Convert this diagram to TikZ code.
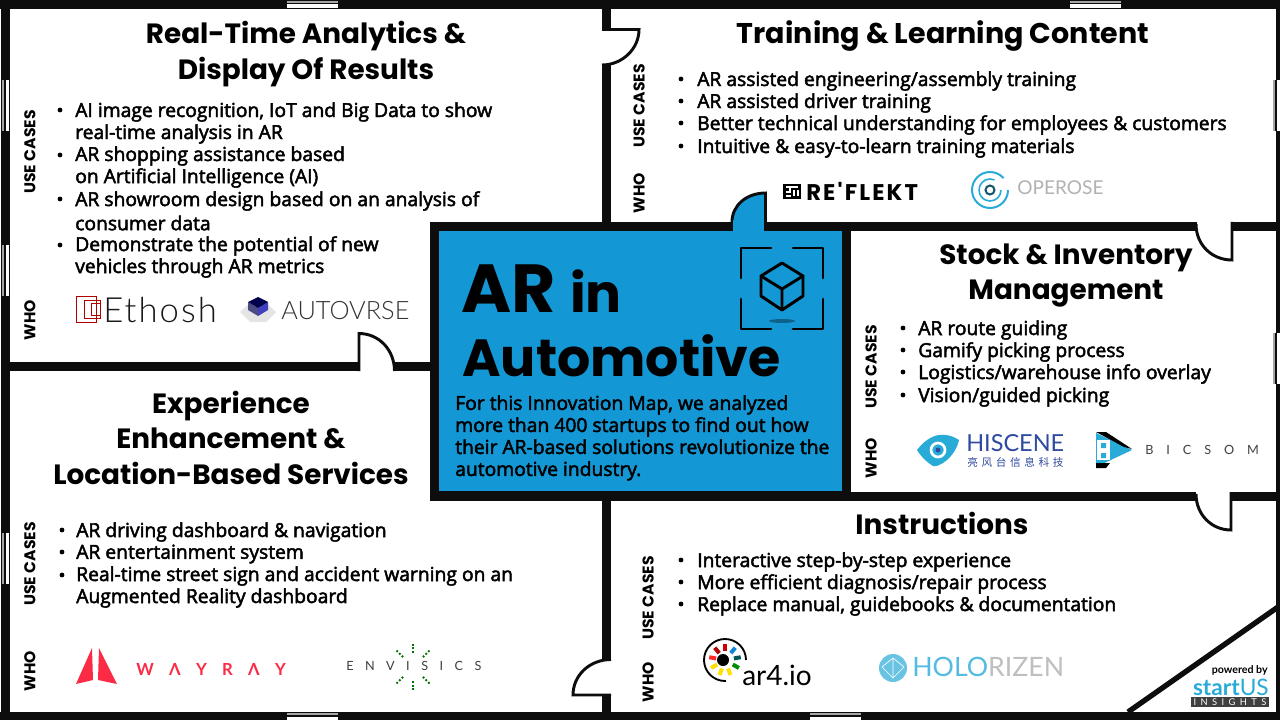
\documentclass[tikz,border=0pt]{standalone}
\usepackage{fontspec}
\setmainfont{Open Sans}[FakeBold=2.5]
\newfontfamily\headfont{Poppins}
\newfontfamily\logofont{Lato}
\newfontfamily\thinfont{Lato Light}
\newfontfamily\cjkfont{Noto Sans CJK SC}
\usetikzlibrary{calc}
\definecolor{wall}{HTML}{0D0D0D}
\definecolor{roomblue}{HTML}{1497D5}
\definecolor{logored}{HTML}{FB2A45}
\definecolor{logocyan}{HTML}{29ABD8}
\definecolor{logonavy}{HTML}{2F4AA0}
\tikzstyle{doorline} = [wall, line width=2.2pt]
\tikzstyle{title} = [align=center, font=\headfont\bfseries\fontsize{20.9}{26.6}\selectfont, inner sep=0pt]
\tikzstyle{item} = [anchor=west, yshift=-1.5pt, font=\fontsize{14.46}{16.5}\selectfont, inner sep=0pt, align=left]
\tikzstyle{tag} = [rotate=90, font=\headfont\bfseries\fontsize{11.7}{13}\selectfont, inner sep=0pt]
\tikzstyle{dot} = [circle, fill=black, inner sep=0pt, minimum size=3.6pt]
\tikzstyle{logo} = [anchor=west, inner sep=0pt]
\tikzstyle{icon} = [line width=2.2pt, line cap=round, line join=round]
\newcommand{\hwindow}[2]{% left end, y of wall top
    \fill[white] (#1,#2+1) rectangle ++(51,7);
    \fill[gray!70] (#1,#2+1) rectangle ++(51,2);
    \fill[wall] (#1,#2+3) rectangle ++(51,1.5);
}
\newcommand{\vwindow}[2]{% x of wall left, top end
    \fill[white] (#1+1,#2) rectangle ++(7,51);
    \fill[gray!70] (#1+1,#2) rectangle ++(2,51);
    \fill[wall] (#1+3,#2) rectangle ++(1.5,51);
}
\begin{document}
\begin{tikzpicture}[x=0.75pt, y=-0.75pt]
    \useasboundingbox (0,0) rectangle (1280,720);
    \fill[white] (0,0) rectangle (1280,720);

    % outer walls
    \fill[wall] (0,0) rectangle (1280,9);
    \fill[wall] (0,712) rectangle (1280,720);
    \fill[wall] (1,0) rectangle (10,720);
    \fill[wall] (1276,0) rectangle (1280,720);
    \hwindow{287}{0}
    \hwindow{1070}{0}
    \hwindow{287}{712}
    \hwindow{810}{712}
    \vwindow{1}{80}
    \vwindow{1}{245}
    \vwindow{1}{533}
    \vwindow{1272}{80}
    \vwindow{1272}{333}

    % inner walls
    \fill[wall] (602,9) rectangle (611,30);
    \fill[wall] (602,64) rectangle (611,222);
    \fill[wall] (602,222) rectangle (1197,231);
    \fill[wall] (1231,222) rectangle (1276,231);
    \fill[wall] (10,362) rectangle (359,371);
    \fill[wall] (394,362) rectangle (430,371);
    \fill[wall] (851,492) rectangle (1196,501);
    \fill[wall] (1230,492) rectangle (1276,501);
    \fill[wall] (602,491) rectangle (611,659);
    \fill[wall] (602,695) rectangle (611,712);
    \fill[wall] (430,222) rectangle (851,501);
    \fill[roomblue] (439,231) rectangle (842,491);

    % doors
    \draw[doorline] (602,29.5) -- (639,29.5) .. controls (639,49) and (622,65) .. (602,65);
    \draw[doorline] (359,371) -- (359,333.5) .. controls (379,333.5) and (394.5,350) .. (394.5,371);
    \draw[doorline, fill=roomblue] (732,222) .. controls (732,205) and (747,193) .. (765.5,193) -- (765.5,222);
    \fill[roomblue] (733,220) rectangle (764.4,232);
    \draw[doorline] (1196,224) .. controls (1196,245) and (1212,260) .. (1232,260) -- (1232,222);
    \draw[doorline] (1196,494) .. controls (1196,514) and (1211,530) .. (1231,530) -- (1231,492);
    \draw[doorline] (611,659.5) .. controls (590,659.5) and (573,675) .. (573,695) -- (611,695);
    \draw[wall, line width=4pt] (1128,712) -- (1278,607);

    % central room
    \node[anchor=base west, inner sep=0pt, font=\headfont\bfseries\fontsize{51}{53}\selectfont] (centerA) at (461,312) {AR \fontsize{40}{44}\selectfont in};
    \node[anchor=base west, inner sep=0pt, font=\headfont\bfseries\fontsize{39.2}{44}\selectfont] (centerB) at (462,376) {Automotive};
    \node[anchor=north west, inner sep=0pt, align=left, font=\fontsize{14.46}{16.5}\selectfont] (intro) at (455,395) {For this Innovation Map, we analyzed\\more than 400 startups to find out how\\their AR-based solutions revolutionize the\\automotive industry.};

    % scan icon
    \draw[icon] (771,248) -- (741,248) -- (741,278);
    \draw[icon] (793,248) -- (823,248) -- (823,278);
    \draw[icon] (741,299) -- (741,329) -- (771,329);
    \draw[icon] (823,299) -- (823,329) -- (793,329);
    \draw[icon] (782,263) -- (761,276) -- (761,296) -- (782,310) -- (803,296) -- (803,276) -- cycle;
    \draw[icon] (761,276) -- (782,289) -- (803,276) (782,289) -- (782,310);
    \fill[black!35!roomblue] (782,321) ellipse (13 and 2);

    % top left room
    \node[title] (roomA) at (306,54) {Real-Time Analytics \&\\Display Of Results};
    \node[tag] (useA) at (30,152) {USE CASES};
    \node[tag] (whoA) at (30,320) {WHO};
    \node[dot] at (60,110) {};
    \node[item] (a1) at (75,110) {AI image recognition, IoT and Big Data to show};
    \node[item] (a2) at (75,132) {real-time analysis in AR};
    \node[dot] at (60,155) {};
    \node[item] (a3) at (75,154) {AR shopping assistance based};
    \node[item] (a4) at (75,176) {on Artificial Intelligence (AI)};
    \node[dot] at (60,199) {};
    \node[item] (a5) at (75,199) {AR showroom design based on an analysis of};
    \node[item] (a6) at (75,221) {consumer data};
    \node[dot] at (60,245) {};
    \node[item] (a7) at (75,244) {Demonstrate the potential of new};
    \node[item] (a8) at (75,266) {vehicles through AR metrics};

    % top right room
    \node[title, font=\headfont\bfseries\fontsize{21.4}{26.6}\selectfont] (roomB) at (943,36) {Training \& Learning Content};
    \node[tag] (useB) at (639,106) {USE CASES};
    \node[tag] (whoB) at (639,193) {WHO};
    \node[dot] at (681,79) {};
    \node[item] (b1) at (697,79) {AR assisted engineering/assembly training};
    \node[dot] at (681,101) {};
    \node[item] (b2) at (697,101) {AR assisted driver training};
    \node[dot] at (681,123) {};
    \node[item] (b3) at (697,123) {Better technical understanding for employees \& customers};
    \node[dot] at (681,146) {};
    \node[item] (b4) at (697,146) {Intuitive \& easy-to-learn training materials};

    % right room
    \node[title] (roomC) at (1066,275.5) {Stock \& Inventory\\Management};
    \node[tag] (useC) at (871,367) {USE CASES};
    \node[tag] (whoC) at (871,458) {WHO};
    \node[dot] at (903,328) {};
    \node[item] (c1) at (918,328) {AR route guiding};
    \node[dot] at (903,350) {};
    \node[item] (c2) at (918,350) {Gamify picking process};
    \node[dot] at (903,372) {};
    \node[item] (c3) at (918,372) {Logistics/warehouse info overlay};
    \node[dot] at (903,395) {};
    \node[item] (c4) at (918,395) {Vision/guided picking};

    % bottom left room
    \node[title] (roomD) at (231,437.5) {Experience\\Enhancement \&\\Location-Based Services};
    \node[tag] (useD) at (30,564) {USE CASES};
    \node[tag] (whoD) at (30,671) {WHO};
    \node[dot] at (62,530) {};
    \node[item] (d1) at (76,530) {AR driving dashboard \& navigation};
    \node[dot] at (62,552) {};
    \node[item] (d2) at (76,552) {AR entertainment system};
    \node[dot] at (62,575) {};
    \node[item] (d3) at (76,574) {Real-time street sign and accident warning on an};
    \node[item] (d4) at (76,596) {Augmented Reality dashboard};

    % bottom right room
    \node[title] (roomE) at (942,523.5) {Instructions};
    \node[tag] (useE) at (648,598) {USE CASES};
    \node[tag] (whoE) at (648,682) {WHO};
    \node[dot] at (681,560) {};
    \node[item] (e1) at (697,560) {Interactive step-by-step experience};
    \node[dot] at (681,582) {};
    \node[item] (e2) at (697,582) {More efficient diagnosis/repair process};
    \node[dot] at (681,604) {};
    \node[item] (e3) at (697,604) {Replace manual, guidebooks \& documentation};

    % logo Ethosh
    \draw[red!70!black, line width=0.6pt] (76,296) rectangle (96,322) (84,300) rectangle (100,318) (91,303) rectangle (100,315);
    \node[logo, font=\thinfont\fontsize{26}{27}\selectfont\addfontfeature{LetterSpace=6}, text=black!90] (ethosh) at (103,310) {Ethosh};
    % logo Autovrse
    \fill[black!10] (240,312) -- (250,303) -- (266,303) -- (276,312) -- (266,322) -- (250,322) -- cycle;
    \fill[blue!30!black!70] (248,302) -- (258,308) -- (258,316) -- (248,310) -- cycle;
    \fill[blue!50!gray] (268,302) -- (258,308) -- (258,316) -- (268,310) -- cycle;
    \fill[blue!30!black] (258,297) -- (268,302) -- (258,308) -- (248,302) -- cycle;
    \node[logo, font=\thinfont\fontsize{19}{20}\selectfont, text=black!80] (autovrse) at (281,311) {AUTOVRSE};
    % logo Reflekt
    \fill[black] (783,184) rectangle (801,199);
    \draw[white, line width=1pt] (786,187) -- (798,187) (790,187) -- (790,192) -- (786,192) (794,190) -- (794,196) (798,190) -- (798,196) (786,196) -- (791,196);
    \node[logo, font=\headfont\bfseries\fontsize{17}{18}\selectfont\addfontfeature{LetterSpace=9.5}, text=black] (reflekt) at (806,191) {RE'FLEKT};
    % logo Operose
    \draw[logocyan, line width=1.5pt, dash pattern=on 75pt off 10pt] (990,190) circle (18);
    \draw[logocyan, line width=1.2pt, dash pattern=on 42pt off 10pt] (990,190) circle (11);
    \draw[black!50!logocyan, line width=1.5pt] (990,190) circle (4.5);
    \node[logo, font=\logofont\fontsize{14.300}{18}\selectfont, text=black!30] (operose) at (1017,188) {OPEROSE};
    % logo Hiscene
    \fill[logocyan] (917,450) .. controls (930,433) and (945,431) .. (959,440) .. controls (955,458) and (938,468) .. (933,466) .. controls (928,463) and (922,458) .. (917,450);
    \draw[white, line width=2pt] (938,450) circle (7);
    \fill[logonavy] (938,450) circle (2.5);
    \node[logo, font=\logofont\fontsize{17.600}{24}\selectfont, text=logonavy] (hiscene) at (966,443) {HISCENE};
    \node[logo, font=\cjkfont\fontsize{8}{9}\selectfont, text=logonavy] (hiscenecn) at (967,462) {亮\hspace{2.7pt}风\hspace{2.7pt}台\hspace{2.7pt}信\hspace{2.7pt}息\hspace{2.7pt}科\hspace{2.7pt}技};
    % logo Bicsom
    \fill[logocyan] (1096,433) -- (1132,450) -- (1096,467) -- cycle;
    \fill[black] (1096,432) -- (1106,432) -- (1132,449) -- (1124,447) -- cycle;
    \fill[black] (1096,468) -- (1106,468) -- (1110,463) -- (1096,463) -- cycle;
    \fill[white] (1097,440) rectangle (1110,460);
    \fill[logocyan] (1101,443) rectangle (1106,448) (1101,453) rectangle (1106,458);
    \node[logo, font=\logofont\fontsize{9.500}{12}\selectfont, text=black!75] (bicsom) at (1145,450) {B\hspace{9.700pt}I\hspace{9.700pt}C\hspace{9.700pt}S\hspace{9.700pt}O\hspace{9.700pt}M};
    % logo Wayray
    \fill[logored] (92,648) -- (93,680) -- (76,684) -- cycle;
    \fill[logored] (99,648) -- (98,680) -- (117,684) -- cycle;
    \node[logo, font=\logofont\bfseries\fontsize{12.500}{14}\selectfont, text=logored] (wayray) at (136,669) {W\hspace{11.500pt}Λ\hspace{11.500pt}Y\hspace{11.500pt}R\hspace{11.500pt}Λ\hspace{11.500pt}Y};
    % logo Envisics
    \node[logo, font=\logofont\fontsize{9.500}{11}\selectfont, text=black!75] (envisics) at (346,666) {E\hspace{8.600pt}N\hspace{8.600pt}V\hspace{8.600pt}I\hspace{8.600pt}S\hspace{8.600pt}I\hspace{8.600pt}C\hspace{8.600pt}S};
    \foreach \ang in {45,90,135,225,270,315}
        \draw[green!45!black, line width=1.4pt, dash pattern=on 1.4pt off 1.4pt] ($(413,667)+(\ang:14)$) -- ($(413,667)+(\ang:25)$);
    % logo ar4.io
    \draw[black, line width=1.4pt, dash pattern=on 75pt off 24pt, dash phase=75pt] (725,660) circle (21);
    \foreach \ang/\col in {270/red!80!black,230/red!70!black,190/red!80!pink,150/yellow!80!orange,110/yellow!85!orange,70/yellow!85!orange,30/green!55!black,350/teal!70!black,310/cyan!70!blue}
        \draw[\col, line width=3pt] ($(725,660)+(\ang:9)$) -- ($(725,660)+(\ang:16)$);
    \fill[black] (723,660) circle (6);
    \node[logo, font=\logofont\fontsize{21}{22}\selectfont] (ar4io) at (742,675) {ar4.io};
    % logo Holorizen
    \fill[logocyan!70] (893,668) circle (14);
    \draw[white, line width=0.5pt] (882,667) -- (893,658) -- (904,667) -- (893,678) -- cycle (893,658) -- (893,678);
    \node[logo, font=\logofont\fontsize{20}{23}\selectfont, text=logocyan!80] (holorizen) at (912,667) {HOLO\textcolor{black!25}{RIZEN}};
    % logo StartUs
    \node[anchor=east, inner sep=0pt, font=\logofont\bfseries\fontsize{8}{9}\selectfont] (powered) at (1268,670) {powered by};
    \node[anchor=east, inner sep=0pt, font=\logofont\bfseries\fontsize{17}{18}\selectfont, text=logocyan] (startus) at (1269,687) {start\textmd{US}};
    \fill[black!75] (1191,697) rectangle (1269,707);
    \node[inner sep=0pt, font=\logofont\fontsize{7}{8}\selectfont, text=white] (insights) at (1230,702) {I\hspace{3.3pt}N\hspace{3.3pt}S\hspace{3.3pt}I\hspace{3.3pt}G\hspace{3.3pt}H\hspace{3.3pt}T\hspace{3.3pt}S};
\end{tikzpicture}
\end{document}
